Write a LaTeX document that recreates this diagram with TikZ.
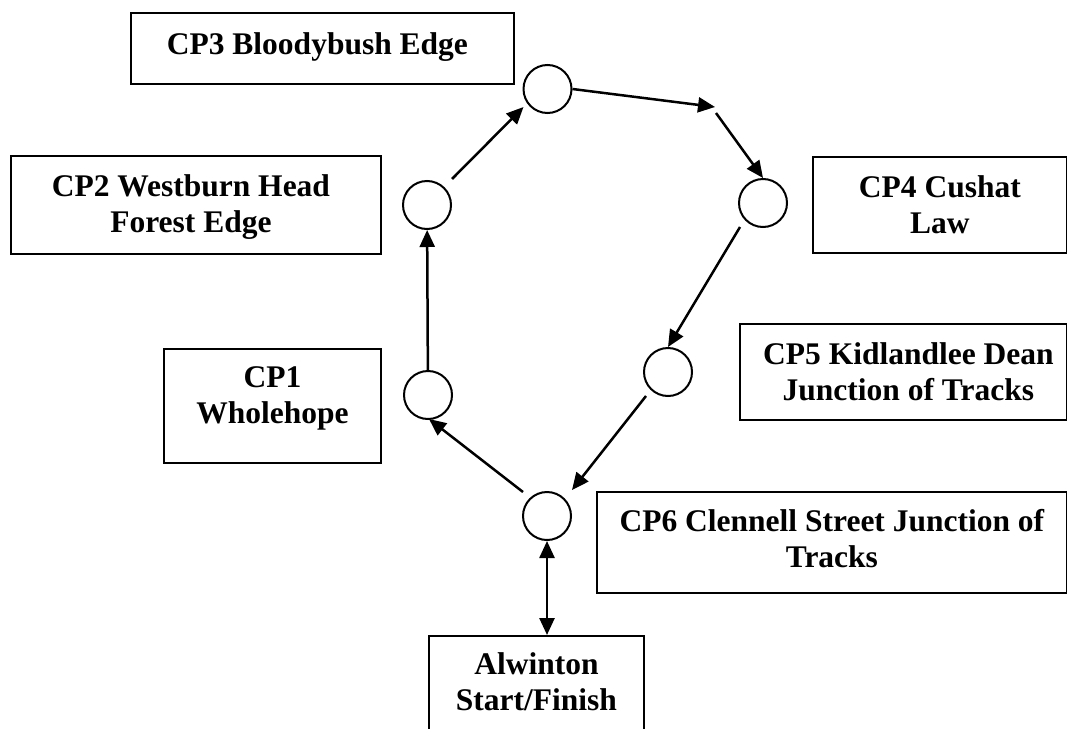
\documentclass[tikz,border=0pt]{standalone}
\usepackage{fontspec}
\setmainfont{Liberation Serif}
\usetikzlibrary{arrows.meta,calc}
\tikzset{
  cpbox/.style={draw, line width=1.8pt, inner sep=0pt, anchor=north west},
  cplabel/.style={font=\fontsize{31.5}{36}\selectfont\bfseries, align=center, inner sep=0pt, anchor=north},
  cpnode/.style={circle, draw, line width=2pt, minimum size=48pt, inner sep=0pt},
  route/.style={line width=2.5pt, -{Triangle[length=17pt,width=15pt]}},
  bothroute/.style={line width=2.5pt, {Triangle[length=17pt,width=15pt]}-{Triangle[length=17pt,width=15pt]}},
}
\begin{document}
\begin{tikzpicture}[x=1pt,y=-1pt]
\useasboundingbox (0,0) rectangle (1067,728);
\clip (0,0) rectangle (1067,728);
% boxes
\node[cpbox, minimum width=383pt, minimum height=71pt] (b3) at (130,12) {};
\node[cpbox, minimum width=370pt, minimum height=98pt] (b2) at (10,155) {};
\node[cpbox, minimum width=254pt, minimum height=96pt] (b4) at (812,156) {};
\node[cpbox, minimum width=217pt, minimum height=114pt] (b1) at (163,348) {};
\node[cpbox, minimum width=327pt, minimum height=96pt] (b5) at (739,323) {};
\node[cpbox, minimum width=470pt, minimum height=101pt] (b6) at (596,491) {};
\node[cpbox, minimum width=215pt, minimum height=115pt] (b0) at (428,635) {};
% labels
\node[cplabel] (t3) at ($(b3.north)+(-5,20)$) {CP3 Bloodybush Edge};
\node[cplabel] (t2) at ($(b2.north)+(-5,19)$) {CP2 Westburn Head\\Forest Edge};
\node[cplabel] (t4) at ($(b4.north)+(0,19)$) {CP4 Cushat\\Law};
\node[cplabel] (t1) at ($(b1.north)+(0,18)$) {CP1\\Wholehope};
\node[cplabel] (t5) at ($(b5.north)+(5,19)$) {CP5 Kidlandlee Dean\\Junction of Tracks};
\node[cplabel] (t6) at ($(b6.north)+(0,18)$) {CP6 Clennell Street Junction of\\Tracks};
\node[cplabel] (t0) at ($(b0.north)+(0,17)$) {Alwinton\\Start/Finish};
% checkpoints
\node[cpnode] (c3) at (547.5,89) {};
\node[cpnode] (c2) at (427,205) {};
\node[cpnode] (c4) at (763,203) {};
\node[cpnode] (c5) at (668,372) {};
\node[cpnode] (c1) at (428,395) {};
\node[cpnode] (c6) at (547,516) {};
\coordinate (w1) at (715,107);
\coordinate (w1b) at (716,113);
% route
\draw[route] ($(c6)+(-24,-24)$) -- ($(c1)+(1,24)$);
\draw[route] (c1) -- (c2);
\draw[route] ($(c2)+(25,-26)$) -- ($(c3)+(-24,18)$);
\draw[route] (c3.east) -- (w1);
\draw[route] (w1b) -- (c4.north);
\draw[route] ($(c4)+(-23,24)$) -- (c5.north);
\draw[route] ($(c5)+(-22,24)$) -- ($(c6)+(25,-26)$);
\draw[bothroute] (c6.south) -- (c6.south |- b0.north);
\end{tikzpicture}
\end{document}
